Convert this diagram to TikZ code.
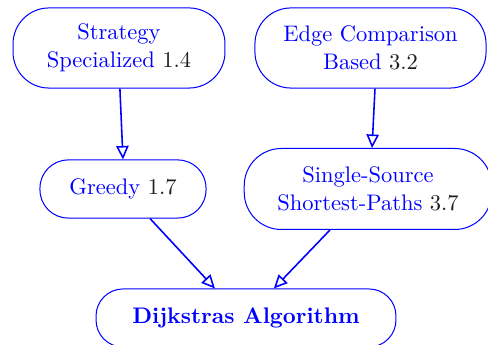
\documentclass[tikz,border=0pt]{standalone}
\usetikzlibrary{arrows.meta}
\definecolor{numc}{RGB}{30,30,30}
\begin{document}
\begin{tikzpicture}[x=0.4444pt,y=-0.4444pt,
  box/.style={draw=blue,line width=0.45pt,text=blue,align=center,inner sep=0pt,font=\fontsize{10}{12.3}\selectfont},
  conn/.style={draw=blue,line width=0.7pt,-{Triangle[open,length=6pt,width=5.5pt]}}]
\useasboundingbox (0,0) rectangle (488,345);
\node[box,minimum width=94.2pt,minimum height=35.6pt,rounded corners=16pt] (s) at (119,48) {Strategy\\Specialized \textcolor{numc}{1.4}};
\node[box,minimum width=102.7pt,minimum height=35.6pt,rounded corners=16pt] (e) at (370.5,48) {Edge Comparison\\Based \textcolor{numc}{3.2}};
\node[box,minimum width=73.8pt,minimum height=25.8pt,rounded corners=12.5pt] (g) at (123,189) {Greedy \textcolor{numc}{1.7}};
\node[box,minimum width=110pt,minimum height=36pt,rounded corners=16.5pt] (p) at (368,189) {Single-Source\\Shortest-Paths \textcolor{numc}{3.7}};
\node[box,minimum width=133.3pt,minimum height=25.8pt,rounded corners=12pt,font=\bfseries\fontsize{10}{12}\selectfont] (d) at (246,318) {Dijkstras Algorithm};
\draw[conn] ([xshift=0.4pt]s.south) -- (g.north);
\draw[conn] ([xshift=2pt]e.south) -- ([xshift=1.8pt]p.north);
\draw[conn] ([xshift=12pt]g.south) -- ([xshift=-13.8pt]d.north);
\draw[conn] ([xshift=-16.9pt]p.south) -- ([xshift=12.4pt]d.north);
\end{tikzpicture}
\end{document}
